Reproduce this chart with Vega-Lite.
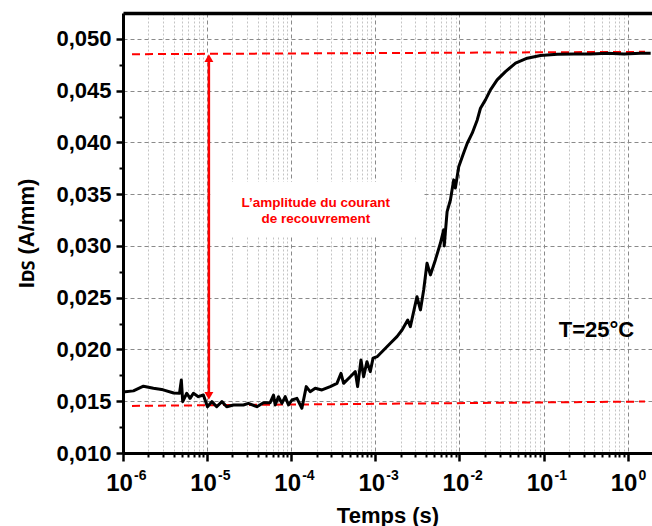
{
  "$schema": "https://vega.github.io/schema/vega-lite/v6.json",
  "width": 529,
  "height": 440,
  "autosize": {"type": "none"},
  "padding": {"left": 123, "top": 13, "right": 0, "bottom": 73},
  "config": {"view": {"stroke": null}, "font": "Liberation Sans"},
  "resolve": {"axis": {"x": "independent", "y": "independent"}},
  "layer": [
    {
      "data": {"values": [{"t": 1.09e-5, "t2": 3.73e-3, "v": 0.03087, "v2": 0.03618}]},
      "mark": {"type": "rect", "fill": "white"},
      "encoding": {
        "x": {
          "field": "t", "type": "quantitative",
          "scale": {"type": "log", "domain": [1e-6, 1.95], "nice": false},
          "axis": {
            "orient": "bottom",
            "values": [1e-6, 1e-5, 1e-4, 1e-3, 1e-2, 1e-1, 1],
            "labelExpr": "'10'",
            "labelFontSize": 24, "labelFontWeight": "bold", "labelColor": "black",
            "labelAlign": "center", "labelOffset": -4, "labelPadding": 10,
            "labelFlush": false, "labelOverlap": false, "labelBound": false,
            "tickSize": 8, "tickWidth": 2.5, "tickColor": "black",
            "domainColor": "black", "domainWidth": 3,
            "grid": true, "gridColor": "#8a8a8a", "gridDash": [4, 3], "gridWidth": 1,
            "title": "Temps (s)", "titleFontSize": 22, "titleFontWeight": "bold",
            "titleColor": "black", "titlePadding": 10
          }
        },
        "x2": {"field": "t2"},
        "y": {
          "field": "v", "type": "quantitative",
          "scale": {"domain": [0.010, 0.0525], "nice": false, "zero": false},
          "axis": {
            "orient": "left",
            "values": [0.010, 0.015, 0.020, 0.025, 0.030, 0.035, 0.040, 0.045, 0.050],
            "labelExpr": "replace(format(datum.value, '.3f'), '.', ',')",
            "labelFontSize": 22, "labelFontWeight": "bold", "labelColor": "black",
            "labelPadding": 5, "labelFlush": false, "labelOverlap": false, "labelBound": false,
            "tickSize": 7, "tickWidth": 2.5, "tickColor": "black",
            "domainColor": "black", "domainWidth": 3,
            "grid": true, "gridColor": "#8a8a8a", "gridDash": [4, 3], "gridWidth": 1,
            "title": "Iᴅꜱ (A/mm)", "titleFontSize": 22, "titleFontWeight": "bold",
            "titleColor": "black", "titlePadding": 17
          }
        },
        "y2": {"field": "v2"}
      }
    },
    {
      "data": {"values": [
        {"g": "top", "t": 1.28e-6, "v": 0.04852},
        {"g": "top", "t": 1.61, "v": 0.04875},
        {"g": "bottom", "t": 1.28e-6, "v": 0.01455},
        {"g": "bottom", "t": 1.61, "v": 0.01497}
      ]},
      "mark": {"type": "line", "color": "#ff0000", "strokeWidth": 2, "strokeDash": [8, 5]},
      "encoding": {
        "x": {
          "field": "t", "type": "quantitative",
          "scale": {"type": "log", "domain": [1e-6, 1.95], "nice": false},
          "axis": {
            "orient": "bottom",
            "values": [2e-6, 3e-6, 4e-6, 5e-6, 6e-6, 7e-6, 8e-6, 9e-6,
                       2e-5, 3e-5, 4e-5, 5e-5, 6e-5, 7e-5, 8e-5, 9e-5,
                       2e-4, 3e-4, 4e-4, 5e-4, 6e-4, 7e-4, 8e-4, 9e-4,
                       2e-3, 3e-3, 4e-3, 5e-3, 6e-3, 7e-3, 8e-3, 9e-3,
                       2e-2, 3e-2, 4e-2, 5e-2, 6e-2, 7e-2, 8e-2, 9e-2,
                       2e-1, 3e-1, 4e-1, 5e-1, 6e-1, 7e-1, 8e-1, 9e-1],
            "labels": false, "domain": false,
            "tickSize": 4, "tickWidth": 2, "tickColor": "black",
            "grid": true, "gridColor": "#c4c4c4", "gridDash": [2, 2], "gridWidth": 1,
            "title": null
          }
        },
        "y": {
          "field": "v", "type": "quantitative",
          "scale": {"domain": [0.010, 0.0525], "nice": false, "zero": false},
          "axis": {
            "orient": "left",
            "values": [0.0125, 0.0175, 0.0225, 0.0275, 0.0325, 0.0375, 0.0425, 0.0475],
            "labels": false, "domain": false, "grid": false,
            "tickSize": 4, "tickWidth": 2, "tickColor": "black",
            "title": null
          }
        },
        "detail": {"field": "g"}
      }
    },
    {
      "data": {"values": [
        {"t": 1.0e-6, "v": 0.0159}, {"t": 1.33e-6, "v": 0.0160}, {"t": 1.75e-6, "v": 0.01645},
        {"t": 2.3e-6, "v": 0.01625}, {"t": 3.0e-6, "v": 0.0161}, {"t": 4.0e-6, "v": 0.0158},
        {"t": 4.7e-6, "v": 0.01577}, {"t": 4.94e-6, "v": 0.01705}, {"t": 5.13e-6, "v": 0.01496},
        {"t": 5.73e-6, "v": 0.01577}, {"t": 6.28e-6, "v": 0.01528}, {"t": 6.87e-6, "v": 0.01577},
        {"t": 7.87e-6, "v": 0.01544}, {"t": 9.03e-6, "v": 0.0156}, {"t": 1.01e-5, "v": 0.01447},
        {"t": 1.14e-5, "v": 0.01496}, {"t": 1.30e-5, "v": 0.01447}, {"t": 1.50e-5, "v": 0.01496},
        {"t": 1.71e-5, "v": 0.01447}, {"t": 2.06e-5, "v": 0.01464}, {"t": 2.70e-5, "v": 0.01464},
        {"t": 3.10e-5, "v": 0.0148}, {"t": 3.91e-5, "v": 0.01447}, {"t": 4.68e-5, "v": 0.01486},
        {"t": 5.62e-5, "v": 0.01486}, {"t": 6.16e-5, "v": 0.0156}, {"t": 6.45e-5, "v": 0.01464},
        {"t": 7.06e-5, "v": 0.01544}, {"t": 7.75e-5, "v": 0.0148}, {"t": 8.49e-5, "v": 0.01544},
        {"t": 9.29e-5, "v": 0.01464}, {"t": 1.02e-4, "v": 0.01512}, {"t": 1.17e-4, "v": 0.01528},
        {"t": 1.34e-4, "v": 0.01432}, {"t": 1.51e-4, "v": 0.01641}, {"t": 1.68e-4, "v": 0.01592},
        {"t": 1.93e-4, "v": 0.01625}, {"t": 2.32e-4, "v": 0.01609}, {"t": 2.91e-4, "v": 0.01641},
        {"t": 3.50e-4, "v": 0.01673}, {"t": 3.91e-4, "v": 0.0177}, {"t": 4.2e-4, "v": 0.01673},
        {"t": 5.04e-4, "v": 0.01737}, {"t": 5.78e-4, "v": 0.01786}, {"t": 6.16e-4, "v": 0.01641},
        {"t": 6.76e-4, "v": 0.01899}, {"t": 7.26e-4, "v": 0.01737}, {"t": 7.96e-4, "v": 0.01882},
        {"t": 8.71e-4, "v": 0.01786}, {"t": 9.4e-4, "v": 0.01915}, {"t": 1.05e-3, "v": 0.0193},
        {"t": 1.26e-3, "v": 0.01995}, {"t": 1.51e-3, "v": 0.0206}, {"t": 1.81e-3, "v": 0.02124},
        {"t": 2.08e-3, "v": 0.02188}, {"t": 2.43e-3, "v": 0.02285}, {"t": 2.61e-3, "v": 0.0222},
        {"t": 3.13e-3, "v": 0.0251}, {"t": 3.44e-3, "v": 0.02382}, {"t": 3.76e-3, "v": 0.02575},
        {"t": 4.12e-3, "v": 0.02833}, {"t": 4.52e-3, "v": 0.0272}, {"t": 5.18e-3, "v": 0.02865},
        {"t": 5.94e-3, "v": 0.03026}, {"t": 6.50e-3, "v": 0.03155}, {"t": 6.6e-3, "v": 0.0300},
        {"t": 7.14e-3, "v": 0.03331}, {"t": 7.82e-3, "v": 0.03444}, {"t": 8.55e-3, "v": 0.03638},
        {"t": 8.95e-3, "v": 0.0356}, {"t": 9.82e-3, "v": 0.03766}, {"t": 1.12e-2, "v": 0.03896},
        {"t": 1.24e-2, "v": 0.03992}, {"t": 1.42e-2, "v": 0.04089}, {"t": 1.63e-2, "v": 0.04217},
        {"t": 1.78e-2, "v": 0.0433}, {"t": 2.04e-2, "v": 0.04411}, {"t": 2.34e-2, "v": 0.04507},
        {"t": 2.81e-2, "v": 0.04604}, {"t": 3.53e-2, "v": 0.04684}, {"t": 4.65e-2, "v": 0.04765},
        {"t": 6.4e-2, "v": 0.04813}, {"t": 9.2e-2, "v": 0.04839}, {"t": 0.146, "v": 0.04852},
        {"t": 0.23, "v": 0.04855}, {"t": 0.363, "v": 0.04855}, {"t": 0.573, "v": 0.04862},
        {"t": 0.904, "v": 0.04855}, {"t": 1.43, "v": 0.04862}, {"t": 1.88, "v": 0.04862}
      ]},
      "mark": {"type": "line", "color": "black", "strokeWidth": 3, "strokeJoin": "round"},
      "encoding": {
        "x": {
          "field": "t", "type": "quantitative",
          "scale": {"type": "log", "domain": [1e-6, 1.95], "nice": false},
          "axis": {
            "orient": "bottom",
            "values": [1e-6, 1e-5, 1e-4, 1e-3, 1e-2, 1e-1, 1],
            "labelExpr": "'' + round(log(datum.value) / LN10)",
            "labelFontSize": 14, "labelFontWeight": "bold", "labelColor": "black",
            "labelAlign": "left", "labelOffset": 10.5, "labelPadding": 7,
            "labelFlush": false, "labelOverlap": false, "labelBound": false,
            "tickSize": 8, "tickColor": "transparent",
            "domain": false, "grid": false, "title": null
          }
        },
        "y": {
          "field": "v", "type": "quantitative",
          "scale": {"domain": [0.010, 0.0525], "nice": false, "zero": false},
          "axis": null
        }
      }
    },
    {
      "data": {"values": [{"t": 1.05e-5, "v": 0.0156, "v2": 0.0481}]},
      "mark": {"type": "rule", "color": "#ff0000", "strokeWidth": 2.5},
      "encoding": {
        "x": {
          "field": "t", "type": "quantitative",
          "scale": {"type": "log", "domain": [1e-6, 1.95], "nice": false},
          "axis": {
            "orient": "top", "labels": false, "ticks": false, "grid": false,
            "domain": true, "domainColor": "black", "domainWidth": 3.5, "title": null
          }
        },
        "y": {
          "field": "v", "type": "quantitative",
          "scale": {"domain": [0.010, 0.0525], "nice": false, "zero": false},
          "axis": null
        },
        "y2": {"field": "v2"}
      }
    },
    {
      "data": {"values": [
        {"t": 1.05e-5, "v": 0.04815, "s": "triangle-up"},
        {"t": 1.05e-5, "v": 0.01551, "s": "triangle-down"}
      ]},
      "mark": {"type": "point", "filled": true, "color": "#ff0000", "size": 80, "opacity": 1},
      "encoding": {
        "x": {"field": "t", "type": "quantitative", "scale": {"type": "log", "domain": [1e-6, 1.95], "nice": false}, "axis": null},
        "y": {"field": "v", "type": "quantitative", "scale": {"domain": [0.010, 0.0525], "nice": false, "zero": false}, "axis": null},
        "shape": {"field": "s", "type": "nominal", "scale": null}
      }
    },
    {
      "data": {"values": [{"t": 1.96e-4, "v": 0.0338, "label": "L’amplitude du courant\nde recouvrement"}]},
      "mark": {"type": "text", "color": "#ff0000", "fontWeight": "bold", "fontSize": 13.5, "align": "center", "baseline": "alphabetic", "lineBreak": "\n", "lineHeight": 16.7},
      "encoding": {
        "x": {"field": "t", "type": "quantitative", "scale": {"type": "log", "domain": [1e-6, 1.95], "nice": false}, "axis": null},
        "y": {"field": "v", "type": "quantitative", "scale": {"domain": [0.010, 0.0525], "nice": false, "zero": false}, "axis": null},
        "text": {"field": "label"}
      }
    },
    {
      "data": {"values": [{"t": 0.427, "v": 0.02123, "label": "T=25°C"}]},
      "mark": {"type": "text", "color": "black", "fontWeight": "bold", "fontSize": 22, "align": "center", "baseline": "alphabetic"},
      "encoding": {
        "x": {"field": "t", "type": "quantitative", "scale": {"type": "log", "domain": [1e-6, 1.95], "nice": false}, "axis": null},
        "y": {"field": "v", "type": "quantitative", "scale": {"domain": [0.010, 0.0525], "nice": false, "zero": false}, "axis": null},
        "text": {"field": "label"}
      }
    }
  ]
}
